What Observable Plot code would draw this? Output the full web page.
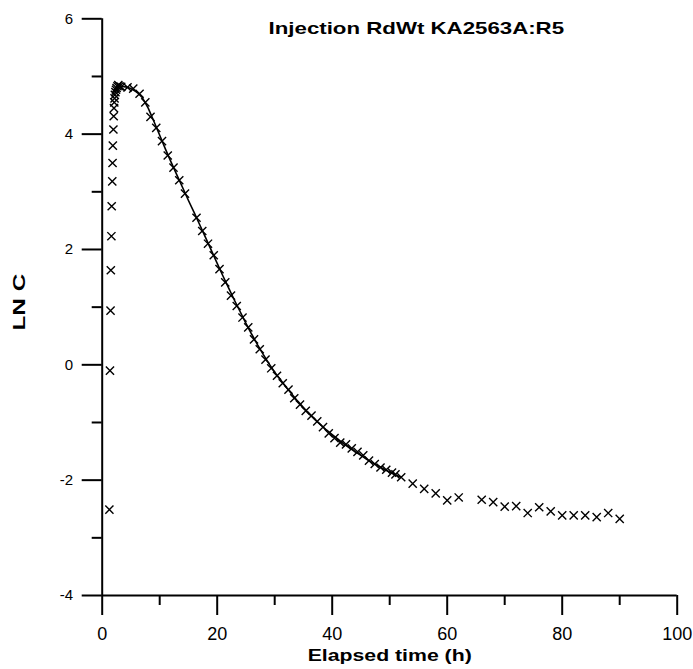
<!DOCTYPE html>
<html>
<head>
<meta charset="utf-8">
<script src="https://cdn.jsdelivr.net/npm/d3@7"></script>
<script src="https://cdn.jsdelivr.net/npm/@observablehq/plot@0.6"></script>
<style>
  html, body { margin: 0; padding: 0; background: #fff; }
  #chart svg { display: block; }
</style>
</head>
<body>
<div id="chart"></div>
<script>
const chartTitle = "Injection RdWt KA2563A:R5";
const xLabel = "Elapsed time (h)";
const yLabel = "LN C";

const xMajorTicks = [0, 20, 40, 60, 80, 100];
const xMinorTicks = [10, 30, 50, 70, 90];
const yMajorTicks = [-4, -2, 0, 2, 4, 6];
const yMinorTicks = [-3, -1, 1, 3, 5];

// measured points (elapsed time h, ln C)
const times = [1.25, 1.35, 1.45, 1.5, 1.6, 1.65, 1.75, 1.8, 1.85, 1.95, 2.0, 2.05, 2.1, 2.15, 2.2, 2.3, 2.4, 2.5, 2.65, 2.8, 3.0, 3.3,
  4.4, 5.4, 6.5, 7.5, 8.4, 9.4, 10.4, 11.4, 12.4, 13.4, 14.4, 16.4, 17.4, 18.4, 19.4, 20.4, 21.4, 22.4, 23.4, 24.4, 25.4, 26.4,
  27.4, 28.4, 29.4, 30.4, 31.4, 32.4, 33.4, 34.4, 35.4, 36.4, 37.4, 38.4, 39.4, 40.4, 41.4, 42.4, 43.4, 44.4, 45.4, 46.4, 47.4,
  48.4, 49.4, 50.4, 51.0, 52.0, 54.0, 56.0, 58.0, 60.0, 62.0, 66.0, 68.0, 70.0, 72.0, 74.0, 76.0, 78.0, 80.0, 82.0, 84.0, 86.0, 88.0, 90.0];
const lnC = [-2.51, -0.10, 0.94, 1.64, 2.23, 2.75, 3.18, 3.50, 3.80, 4.08, 4.31, 4.45, 4.55, 4.62, 4.68, 4.73, 4.77, 4.80, 4.83, 4.85, 4.83, 4.82,
  4.81, 4.79, 4.70, 4.55, 4.30, 4.11, 3.88, 3.63, 3.42, 3.20, 2.97, 2.55, 2.32, 2.10, 1.90, 1.66, 1.43, 1.20, 1.02, 0.82, 0.65, 0.44,
  0.27, 0.09, -0.06, -0.19, -0.32, -0.43, -0.58, -0.69, -0.80, -0.88, -0.98, -1.08, -1.19, -1.27, -1.35, -1.38, -1.45, -1.51, -1.57, -1.66, -1.72,
  -1.78, -1.82, -1.87, -1.90, -1.95, -2.06, -2.15, -2.23, -2.35, -2.30, -2.34, -2.38, -2.46, -2.45, -2.57, -2.47, -2.54, -2.61, -2.61, -2.61, -2.64, -2.57, -2.67];

// fitted model curve
const fitTimes = [3, 4, 5, 6, 7, 8, 9, 10, 11, 12, 13, 14, 15, 16, 17, 18, 19, 20, 21, 22, 23, 24, 25, 26, 27, 28, 29, 30,
  31, 32, 33, 34, 35, 36, 37, 38, 39, 40, 41, 42, 43, 44, 45, 46, 47, 48, 49, 50, 51, 52];
const fitLnC = [4.84, 4.82, 4.79, 4.73, 4.63, 4.45, 4.22, 3.98, 3.74, 3.51, 3.29, 3.07, 2.85, 2.64, 2.42, 2.20, 1.98, 1.76, 1.54, 1.33,
  1.12, 0.92, 0.72, 0.53, 0.35, 0.18, 0.02, -0.13, -0.26, -0.39, -0.51, -0.63, -0.74, -0.85, -0.95, -1.04, -1.13, -1.21, -1.29, -1.37,
  -1.44, -1.51, -1.57, -1.64, -1.70, -1.75, -1.81, -1.86, -1.91, -1.95];

const points = times.map((t, i) => ({t, v: lnC[i]}));
const fit = fitTimes.map((t, i) => ({t, v: fitLnC[i]}));

const font = "Arial, 'Liberation Sans', sans-serif";
const fmt = d => String(d);

const chart = Plot.plot({
  width: 693,
  height: 669,
  marginLeft: 101.7,
  marginRight: 16.3,
  marginTop: 18.3,
  marginBottom: 74,
  style: {fontFamily: font, background: "#fff", color: "#000"},
  x: {domain: [0, 100], label: null},
  y: {domain: [-4, 6], label: null},
  marks: [
    Plot.axisX(xMinorTicks, {tickSize: 10, text: null, label: null, strokeWidth: 2, stroke: "#000"}),
    Plot.axisX(xMajorTicks, {tickSize: 20, tickPadding: 12, tickFormat: fmt, strokeWidth: 2, stroke: "#000", fontSize: 18, label: null, fill: "#000"}),
    Plot.axisY(yMinorTicks, {tickSize: 10, text: null, label: null, strokeWidth: 2, stroke: "#000"}),
    Plot.axisY(yMajorTicks, {tickSize: 20, tickPadding: 9, tickFormat: fmt, strokeWidth: 2, stroke: "#000", fontSize: 15, label: null, fill: "#000"}),
    Plot.ruleX([0], {y1: -4, y2: 6, stroke: "#000", strokeWidth: 2}),
    Plot.ruleY([-4], {x1: 0, x2: 100, stroke: "#000", strokeWidth: 2}),
    Plot.line(fit, {x: "t", y: "v", stroke: "#000", strokeWidth: 1.6}),
    Plot.dot(points, {x: "t", y: "v", symbol: "times", r: 3.8, stroke: "#000", strokeWidth: 1.4}),
    Plot.text([chartTitle], {frameAnchor: "top", textAnchor: "middle", dx: 26.6, dy: 10, lineAnchor: "middle", fontSize: 17, fontWeight: "bold", fill: "#000"}),
    Plot.text([xLabel], {frameAnchor: "bottom", textAnchor: "middle", dy: 60, lineAnchor: "middle", fontSize: 17, fontWeight: "bold", fill: "#000"}),
    Plot.text([yLabel], {frameAnchor: "left", textAnchor: "middle", dx: -82.7, dy: -5, rotate: -90, lineAnchor: "middle", fontSize: 17, fontWeight: "bold", fill: "#000"})
  ]
});

// the reference's bold labels are drawn wider than a plain font: stretch along the baseline
const stretch = new Map([[chartTitle, 1.31], [xLabel, 1.25], [yLabel, 1.43]]);
chart.querySelectorAll("text").forEach(t => {
  const s = stretch.get(t.textContent);
  if (s) {
    const tr = t.getAttribute("transform") || "";
    t.setAttribute("transform", (tr + ` scale(${s},1)`).trim());
  }
});
document.getElementById("chart").appendChild(chart);
</script>
</body>
</html>
